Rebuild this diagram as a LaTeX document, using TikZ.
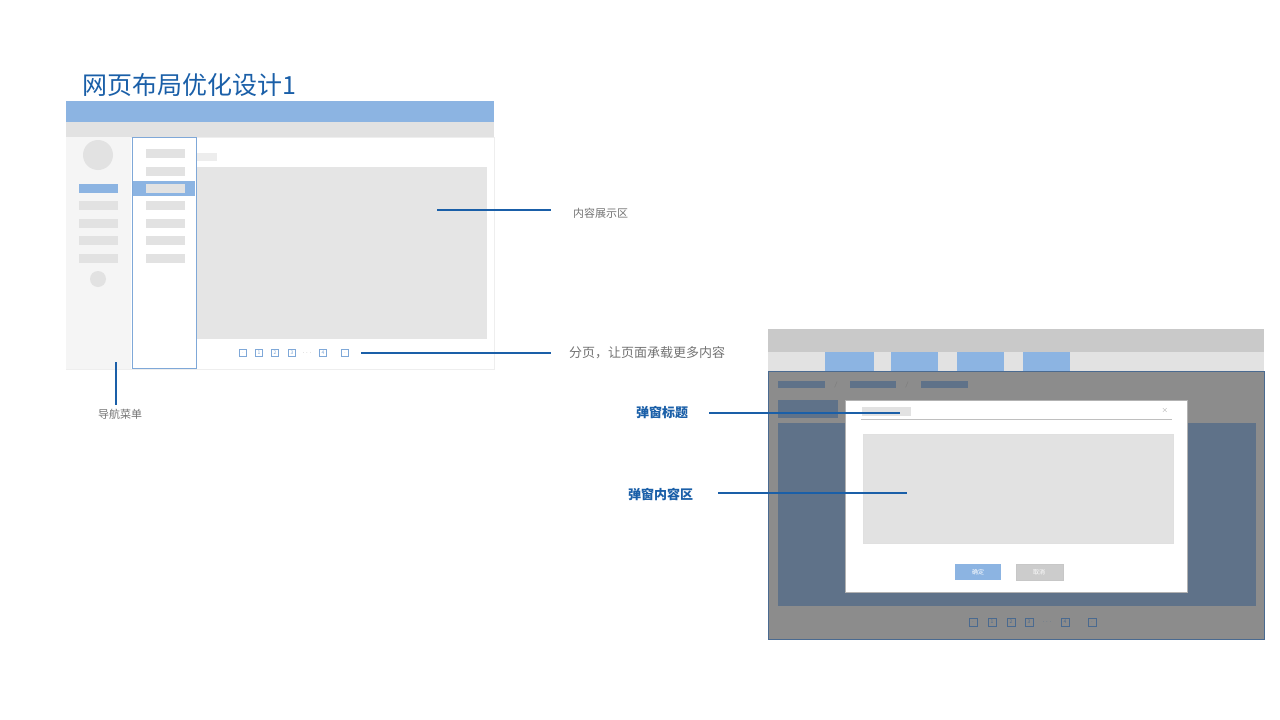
\documentclass[tikz,border=0pt]{standalone}
\usepackage{fontspec}
\newfontfamily\cjk{Noto Sans CJK SC}
\begin{document}
\begin{tikzpicture}[x=1pt,y=-1pt,
 ink/.style={draw=none,fill=#1},
 lead/.style={draw=lineblue,line width=1.3pt},
 pg/.style={draw=pgblue,fill=white,line width=0.5pt,minimum size=7pt,inner sep=0pt,font=\cjk\fontsize{5}{5}\selectfont,text=pgblue},
 pgd/.style={draw=pgdark,fill=none,line width=0.5pt,minimum size=8pt,inner sep=0pt,font=\cjk\fontsize{5}{5}\selectfont,text=pgdark}]
\definecolor{lineblue}{HTML}{1A5FA8}
\definecolor{lblue}{HTML}{8CB4E2}
\definecolor{pgblue}{HTML}{7FA8D8}
\definecolor{pgdark}{HTML}{4A6A90}
\definecolor{lg}{HTML}{E2E2E2}
\definecolor{dbg}{HTML}{5F7289}
\useasboundingbox (0,0) rectangle (1280,720);
\fill[white] (0,0) rectangle (1280,720);
% title
\node[anchor=west,inner sep=0,text=lineblue,font=\cjk\fontsize{25}{25}\selectfont] (title) at (82,85) {网页布局优化设计1};
% left mockup
\draw[draw=lg!60,fill=white] (66,137) rectangle (494,369);
\fill[lblue] (66,101) rectangle (494,122);
\fill[lg] (66,122) rectangle (494,137);
\fill[black!4] (66,137) rectangle (131,369);
\fill[lg] (98,155) circle (15);
\fill[lblue] (79,184) rectangle (118,193);
\foreach \y in {201,219,236,254} \fill[lg] (79,\y) rectangle (118,\y+9);
\fill[lg] (98,279) circle (8);
\draw[draw=pgblue,fill=white,line width=1pt] (132,137) rectangle (196,368);
\fill[lblue] (133,181) rectangle (195,196);
\foreach \y in {149,167,184,201,219,236,254} \fill[lg] (146,\y) rectangle (185,\y+9);
\fill[black!7] (197,153) rectangle (217,161);
\fill[black!10] (197,167) rectangle (487,339);
\node[pg] (p0) at (243,353) {\tiny$\cdot$};
\node[pg] (p1) at (259,353) {1};
\node[pg] (p2) at (275,353) {2};
\node[pg] (p3) at (292,353) {3};
\node[text=black!40,font=\fontsize{6}{6}\selectfont,inner sep=0] (pd) at (307,353) {$\cdots$};
\node[pg] (p4) at (323,353) {4};
\node[pg] (p5) at (345,353) {\tiny$\cdot$};
% left labels
\coordinate (c1) at (437,210);
\node[anchor=west,text=black!55,font=\cjk\fontsize{11}{11}\selectfont,inner sep=0] (l1) at (573,213) {内容展示区};
\draw[lead] (c1) -- (551,210);
\node[anchor=west,text=black!55,font=\cjk\fontsize{13}{13}\selectfont,inner sep=0] (l2) at (569,353) {分页，让页面承载更多内容};
\draw[lead] (361,353) -- (551,353);
\node[anchor=west,text=black!55,font=\cjk\fontsize{11}{11}\selectfont,inner sep=0] (l3) at (98,414) {导航菜单};
\draw[lead] (116,362) -- (116,405);
% right mockup
\fill[black!21] (768,329) rectangle (1264,352);
\fill[lg] (768,352) rectangle (1264,371);
\foreach \a/\b in {825/874,891/938,957/1004,1023/1070} \fill[lblue] (\a,352) rectangle (\b,371);
\draw[draw=pgdark,fill=black!45] (768,371) rectangle (1264,639);
\foreach \a/\b in {778/825,850/896,921/968} \fill[dbg] (\a,381) rectangle (\b,388);
\node[text=black!55,font=\fontsize{6}{6}\selectfont,inner sep=0] (s1) at (836,385) {/};
\node[text=black!55,font=\fontsize{6}{6}\selectfont,inner sep=0] (s2) at (907,385) {/};
\fill[dbg] (778,400) rectangle (838,418);
\fill[dbg] (778,423) rectangle (1256,606);
\draw[draw=black!30,fill=white] (845,400) rectangle (1187,592);
\fill[lg] (862,407) rectangle (911,416);
\draw[black!25,line width=0.6pt] (861,419) -- (1172,419);
\node[text=black!40,font=\fontsize{8}{8}\selectfont\bfseries,inner sep=0] (x) at (1165,410) {$\times$};
\draw[draw=black!12,fill=lg] (863,434) rectangle (1173,543);
\fill[lblue] (955,564) rectangle (1001,580);
\node[text=white,font=\cjk\fontsize{6}{6}\selectfont,inner sep=0] (ok) at (978,572) {确定};
\draw[draw=black!22,fill=black!20] (1016,564) rectangle (1063,580);
\node[text=white,font=\cjk\fontsize{6}{6}\selectfont,inner sep=0] (cn) at (1039,572) {取消};
\node[pgd] (q0) at (973,622) {$\cdot$};
\node[pgd] (q1) at (992,622) {1};
\node[pgd] (q2) at (1011,622) {2};
\node[pgd] (q3) at (1029,622) {3};
\node[text=pgdark,font=\fontsize{6}{6}\selectfont,inner sep=0] (qd) at (1047,622) {$\cdots$};
\node[pgd] (q4) at (1065,622) {4};
\node[pgd] (q5) at (1092,622) {$\cdot$};
% right labels
\node[anchor=west,text=lineblue,font=\cjk\fontsize{13}{13}\selectfont\bfseries,inner sep=0] (r1) at (636,413) {弹窗标题};
\draw[lead] (709,413) -- (900,413);
\node[anchor=west,text=lineblue,font=\cjk\fontsize{13}{13}\selectfont\bfseries,inner sep=0] (r2) at (628,494) {弹窗内容区};
\draw[lead] (718,493) -- (907,493);
\end{tikzpicture}
\end{document}
